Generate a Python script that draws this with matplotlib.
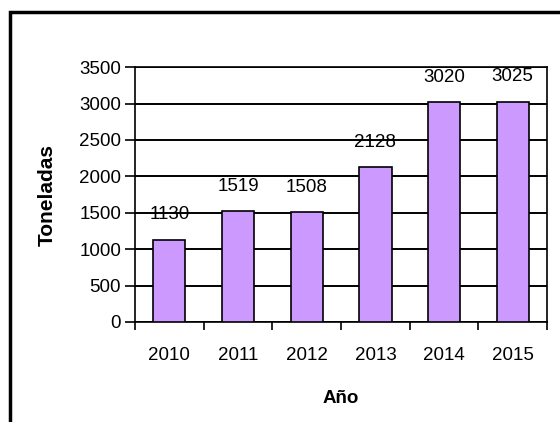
import matplotlib.pyplot as plt
from matplotlib.patches import Rectangle

years = ["2010", "2011", "2012", "2013", "2014", "2015"]
tons = [1130, 1519, 1508, 2128, 3020, 3025]
y_ticks = [0, 500, 1000, 1500, 2000, 2500, 3000, 3500]

plt.rcParams['font.family'] = ['Liberation Sans', 'DejaVu Sans']

fig = plt.figure(figsize=(5.6, 4.22), dpi=100)
ax = fig.add_axes([0.241, 0.237, 0.736, 0.604])

# outer chart frame (cut off on right and bottom like the screenshot)
fig.patches.append(Rectangle((10 / 560, -0.1), 1.2, 0.1 + (422 - 12) / 422,
                             transform=fig.transFigure, fill=False,
                             edgecolor='black', linewidth=2.5))

x = range(len(years))
bars = ax.bar(x, tons, width=0.47, color='#CC99FF', edgecolor='black',
              linewidth=1.2, zorder=3)

for xi, v in zip(x, tons):
    ax.annotate(str(v), (xi, v), xytext=(0, 18), textcoords='offset points',
                ha='center', va='center', fontsize=13.5, zorder=4)

ax.set_xlim(-0.5, len(years) - 0.5)
ax.set_ylim(0, 3500)
ax.set_yticks(y_ticks)
ax.tick_params(axis='y', labelsize=13.5, length=7, width=1.2, pad=3)
ax.grid(axis='y', color='black', linewidth=1.4, zorder=1)

# category ticks sit between the bars, labels centred on bars
ax.set_xticks([i - 0.5 for i in range(len(years) + 1)])
ax.set_xticklabels([])
ax.set_xticks(list(x), minor=True)
ax.set_xticklabels(years, minor=True)
ax.tick_params(axis='x', which='major', length=6, width=1.2, direction='out')
ax.tick_params(axis='x', which='minor', length=0, labelsize=13.5, pad=18)

for s in ax.spines.values():
    s.set_linewidth(1.2)
    s.set_color('black')

ax.set_xlabel("Año", fontsize=13.5, fontweight='bold', labelpad=19)
ax.set_ylabel("Toneladas", fontsize=15, fontweight='bold', labelpad=16)

fig.savefig('out.png', dpi=100)
